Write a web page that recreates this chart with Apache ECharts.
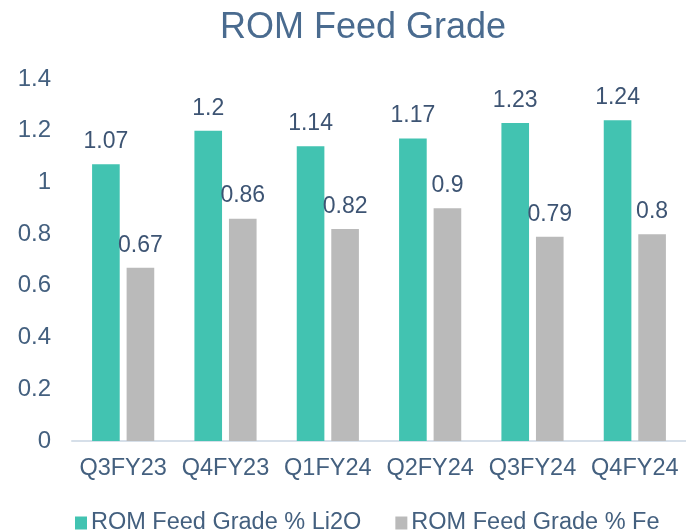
<!DOCTYPE html>
<html>
<head>
<meta charset="utf-8">
<script src="https://cdn.jsdelivr.net/npm/echarts@6/dist/echarts.min.js"></script>
<style>
  html, body { margin: 0; padding: 0; background: #fff; }
  #main { width: 686px; height: 532px; }
</style>
</head>
<body>
<div id="main"></div>
<script>
// 季度
const quarters = ["Q3FY23", "Q4FY23", "Q1FY24", "Q2FY24", "Q3FY24", "Q4FY24"];
// 两个系列
const li2oGrade = [1.07, 1.2, 1.14, 1.17, 1.23, 1.24];
const feGrade = [0.67, 0.86, 0.82, 0.9, 0.79, 0.8];
const seriesNames = ["ROM Feed Grade % Li2O", "ROM Feed Grade % Fe"];

const chart = echarts.init(document.getElementById("main"));
const font = "Liberation Sans, Arial, sans-serif";
const labelStyle = {
  show: true,
  position: "top",
  distance: 11,
  fontFamily: font,
  fontSize: 23,
  color: "#3d5473",
};

chart.setOption({
  title: {
    text: "ROM Feed Grade",
    left: 215,
    top: 5,
    textStyle: {
      fontFamily: font,
      fontSize: 36,
      fontWeight: "normal",
      color: "#4a6b8f",
    },
  },
  legend: {
    left: 70,
    top: 506,
    itemWidth: 12,
    itemHeight: 13,
    itemGap: 34,
    icon: "rect",
    textStyle: { fontFamily: font, fontSize: 23.5, color: "#44607f", padding: [0, 0, 0, -1] },
    data: seriesNames,
  },
  grid: { left: 72, right: 0, top: 79, bottom: 91 },
  xAxis: {
    type: "category",
    data: quarters,
    axisTick: { show: false },
    axisLine: { lineStyle: { color: "#d6dfe9", width: 2 } },
    axisLabel: { interval: 0, fontFamily: font, fontSize: 23.5, color: "#44607f", margin: 16 },
  },
  yAxis: {
    type: "value",
    min: 0,
    max: 1.4,
    interval: 0.2,
    splitLine: { show: false },
    axisLine: { show: false },
    axisTick: { show: false },
    axisLabel: { fontFamily: font, fontSize: 24, color: "#44607f", margin: 21 },
  },
  series: [
    {
      name: seriesNames[0],
      type: "bar",
      data: li2oGrade,
      barWidth: "27%",
      barGap: "25%",
      itemStyle: { color: "#42c3b1" },
      label: labelStyle,
    },
    {
      name: seriesNames[1],
      type: "bar",
      data: feGrade,
      barWidth: "27%",
      itemStyle: { color: "#bababa" },
      label: labelStyle,
    },
  ],
});
</script>
</body>
</html>
